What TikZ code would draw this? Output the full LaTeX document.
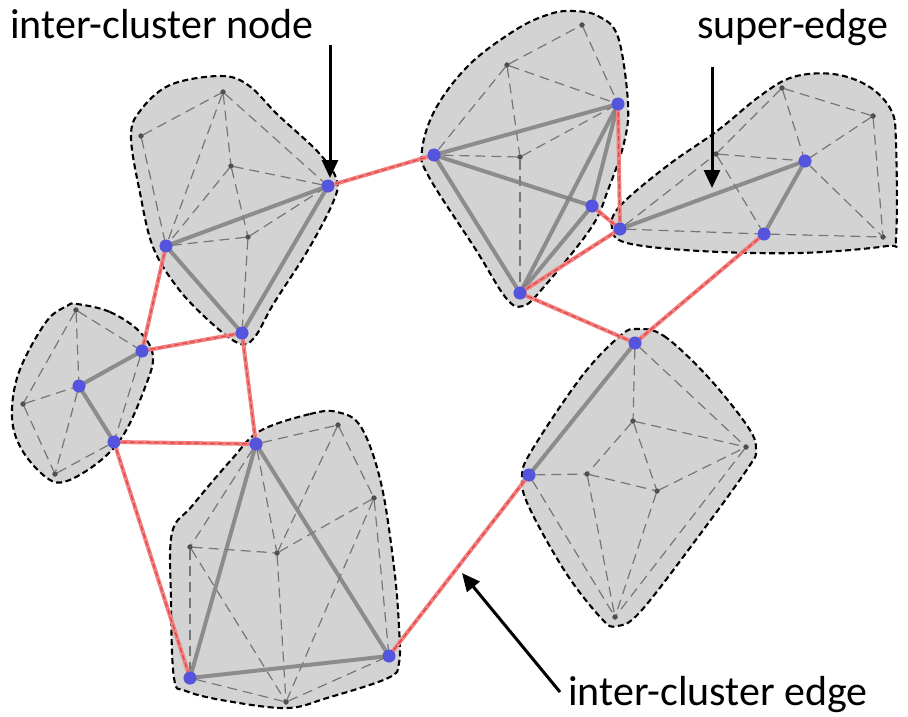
\documentclass[tikz,border=0pt]{standalone}
\usepackage{fontspec}
\setmainfont{Carlito}
\usetikzlibrary{arrows.meta}
\definecolor{hullfill}{RGB}{211,211,211}
\definecolor{vblue}{RGB}{84,84,220}
\definecolor{vgray}{RGB}{80,80,80}
\definecolor{iedge}{RGB}{128,128,128}
\definecolor{weakedge}{RGB}{118,118,118}
\definecolor{xedge}{RGB}{242,128,128}
\definecolor{xcore}{RGB}{222,70,70}
\tikzset{
  hull/.style={fill=hullfill, draw=black, line width=2.1pt, dash pattern=on 6pt off 3.5pt},
  bn/.style={circle, fill=vblue, inner sep=0pt, minimum size=12.5pt},
  gn/.style={circle, fill=vgray, inner sep=0pt, minimum size=5pt},
  weak/.style={draw=weakedge, line width=1.2pt, dash pattern=on 10pt off 6pt},
  superedge/.style={draw=iedge, line width=4pt, opacity=0.85},
  crossedge/.style={draw=xedge, line width=4pt},
  crosscore/.style={draw=xcore, line width=1.2pt, dash pattern=on 5pt off 3pt},
  callout/.style={draw=black, line width=3pt, -{Triangle[length=18pt,width=16pt]}},
  label/.style={font=\fontsize{42}{48}\selectfont, inner sep=0pt, anchor=base west}
}
\begin{document}
\begin{tikzpicture}[x=1pt,y=-1pt]
\useasboundingbox (0,0) rectangle (908,717);

% cluster outlines
\draw[hull] plot[smooth cycle, tension=0.6] coordinates {(220,76) (170,85) (140,111) (131,137) (140,193) (153,247) (177,287) (207,319) (238,343) (254,338) (274,303) (308,250) (334,200) (336,178) (318,152) (278,115) (248,85)};
\draw[hull] plot[smooth cycle, tension=0.6] coordinates {(573,11) (598,16) (618,37) (628,103) (624,143) (608,190) (591,228) (543,288) (523,306) (506,298) (476,250) (429,177) (422,150) (436,108) (470,64) (517,29) (550,14)};
\draw[hull] plot[smooth cycle, tension=0.6] coordinates {(612,228) (620,206) (667,166) (717,131) (760,96) (793,77) (833,74) (868,86) (891,110) (896,143) (896,238) (887,246) (800,253) (700,251) (627,243)};
\draw[hull] plot[smooth cycle, tension=0.6] coordinates {(77,304) (110,312) (140,332) (153,357) (144,390) (124,434) (100,461) (67,481) (47,478) (22,450) (12,417) (19,372) (46,322) (67,306)};
\draw[hull] plot[smooth cycle, tension=0.6] coordinates {(260,431) (310,414) (337,412) (361,427) (381,483) (394,567) (399,627) (399,663) (388,678) (327,698) (287,708) (227,701) (186,691) (174,678) (171,600) (172,533) (192,506) (232,459)};
\draw[hull] plot[smooth cycle, tension=0.6] coordinates {(637,329) (664,336) (708,377) (748,427) (756,450) (748,468) (701,533) (641,611) (617,626) (602,619) (566,573) (529,507) (522,477) (532,450) (582,376) (620,336)};

% vertices
\node[gn] (a1) at (223,92) {};
\node[gn] (a2) at (141,136) {};
\node[gn] (a3) at (231,166) {};
\node[gn] (a4) at (248,237) {};
\node[bn] (A1) at (328,186) {};
\node[bn] (A2) at (166,246) {};
\node[bn] (A3) at (242,333) {};

\node[gn] (b1) at (582,25) {};
\node[gn] (b2) at (507,65) {};
\node[gn] (b3) at (520,157) {};
\node[bn] (B1) at (434,155) {};
\node[bn] (B2) at (618,104) {};
\node[bn] (B3) at (592,206) {};
\node[bn] (B4) at (520,293) {};

\node[gn] (c1) at (782,88) {};
\node[gn] (c2) at (873,116) {};
\node[gn] (c3) at (883,237) {};
\node[gn] (c4) at (716,154) {};
\node[bn] (C1) at (805,161) {};
\node[bn] (C2) at (764,234) {};
\node[bn] (C3) at (620,229) {};

\node[gn] (d1) at (76,310) {};
\node[gn] (d2) at (23,404) {};
\node[gn] (d3) at (55,474) {};
\node[bn] (D1) at (79,386) {};
\node[bn] (D2) at (142,351) {};
\node[bn] (D3) at (114,442) {};

\node[bn] (E1) at (256,444) {};
\node[gn] (e1) at (338,425) {};
\node[gn] (e2) at (374,498) {};
\node[gn] (e3) at (190,547) {};
\node[gn] (e4) at (277,553) {};
\node[gn] (e5) at (286,702) {};
\node[bn] (E2) at (190,678) {};
\node[bn] (E3) at (389,656) {};

\node[bn] (F1) at (635,343) {};
\node[bn] (F2) at (529,475) {};
\node[gn] (f1) at (633,421) {};
\node[gn] (f2) at (746,447) {};
\node[gn] (f3) at (587,474) {};
\node[gn] (f4) at (657,491) {};
\node[gn] (f5) at (615,617) {};

% edges inside the clusters
\foreach \u/\v in {a2/a1, a2/A2, a1/A2, a1/a3, a3/a4, a1/A1, a3/A2, a3/A1, a4/A2, a4/A1, a4/A3,
  b2/b1, b1/B2, b2/B2, b2/B1, b2/b3, b3/B1, b3/B2, b3/B4,
  c1/c2, c1/c4, c1/C1, c2/C1, c2/c3, C1/c3, c4/C1, c4/C2, C3/c4, C3/C2, C2/c3,
  d1/d2, d1/D2, d1/D1, d2/D1, d2/d3, D1/d3, d3/D3, D2/D3,
  E1/e1, e1/e2, e1/e4, e2/e4, e2/E3, e2/e5, E1/e3, E1/e4, e3/e4, e3/E2, e3/e5, e4/e5, E2/e5, e5/E3,
  F1/f1, F1/f2, f1/f2, f1/f3, f1/f4, F2/f3, f3/f4, f4/f2, F2/f5, f3/f5, f4/f5, f2/f5}
  \draw[weak] (\u) -- (\v);

% super-edges
\foreach \u/\v in {A2/A1, A2/A3, A1/A3,
  B1/B2, B1/B3, B1/B4, B2/B4, B3/B4, B2/B3,
  C3/C1, C1/C2,
  D1/D2, D1/D3,
  E1/E2, E1/E3, E2/E3,
  F1/F2}
  \draw[superedge] (\u.center) -- (\v.center);

% inter-cluster edges
\foreach \u/\v in {A1/B1, A2/D2, A3/D2, A3/E1, D3/E1, D3/E2, B2/C3, B3/C3, B4/C3, B4/F1, C2/F1, F2/E3}
  {\draw[crossedge] (\u.center) -- (\v.center);
   \draw[crosscore] (\u.center) -- (\v.center);}

% redraw vertices on top of the edges
\foreach \n in {a1,a2,a3,a4,b1,b2,b3,c1,c2,c3,c4,d1,d2,d3,e1,e2,e3,e4,e5,f1,f2,f3,f4,f5}
  \fill[vgray] (\n) circle (2.6pt);
\foreach \n in {A1,A2,A3,B1,B2,B3,B4,C1,C2,C3,D1,D2,D3,E1,E2,E3,F1,F2}
  \fill[vblue] (\n) circle (6.5pt);

% callouts
\node[label] (t1) at (10,39) {inter-cluster node};
\node[label] (t2) at (697,39) {super-edge};
\node[label] (t3) at (568,705) {inter-cluster edge};
\coordinate (p1) at (330,45);
\coordinate (q1) at (330,178);
\coordinate (p2) at (712,67);
\coordinate (q2) at (712,188);
\coordinate (p3) at (560,692);
\coordinate (q3) at (462,573);
\draw[callout] (p1) -- (q1);
\draw[callout] (p2) -- (q2);
\draw[callout] (p3) -- (q3);
\end{tikzpicture}
\end{document}
